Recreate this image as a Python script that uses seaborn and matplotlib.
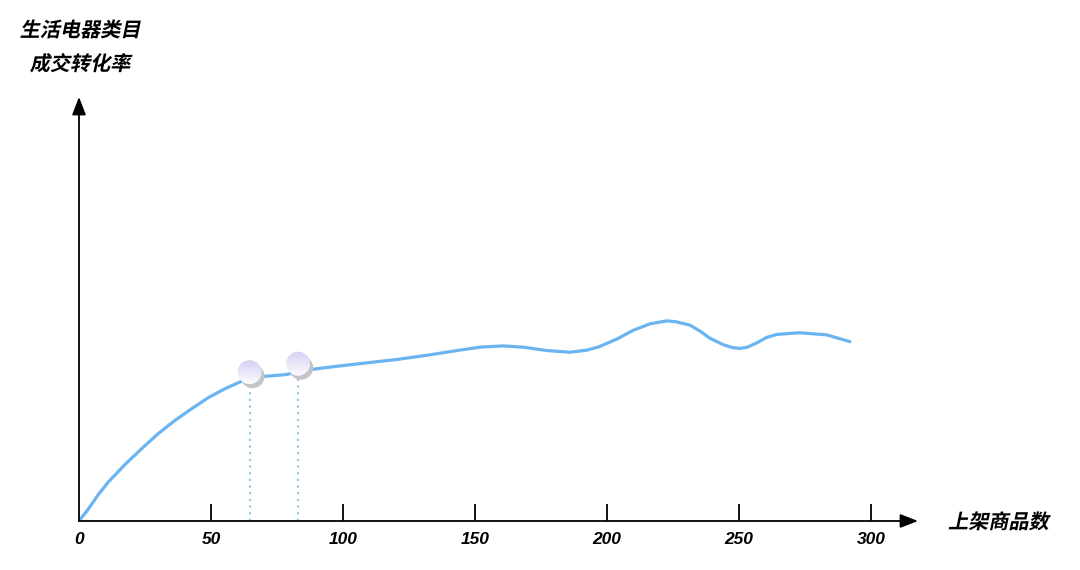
import matplotlib
matplotlib.use("Agg")
import matplotlib.pyplot as plt
import matplotlib.patheffects as pe
from matplotlib.patches import Ellipse
from matplotlib.transforms import Affine2D
import numpy as np
import seaborn as sns

# curve (x = listed goods, y = conversion rate, arbitrary units)
x_vals = [0, 3.5, 7.3, 11.1, 17.4, 23.8, 30.0, 36.3, 42.7, 49.0, 55.3, 61.0, 64.8,
          69.7, 78.0, 83.0, 87.5, 91.3, 95.1, 107.6, 120.5, 133.0, 143.2, 151.9,
          160.6, 168.2, 177.3, 186.0, 192.4, 197.0, 203.7, 210.0, 216.3, 222.6,
          226.1, 231.4, 235.2, 239.0, 244.0, 247.5, 250.4, 253.2, 256.7, 260.5,
          264.3, 273.1, 283.2, 292.0]
y_vals = [0, 0.28, 0.62, 0.92, 1.33, 1.71, 2.06, 2.37, 2.65, 2.91, 3.12, 3.28, 3.37,
          3.41, 3.45, 3.51, 3.57, 3.60, 3.63, 3.72, 3.81, 3.92, 4.02, 4.10,
          4.13, 4.10, 4.02, 3.98, 4.03, 4.11, 4.29, 4.50, 4.65, 4.72,
          4.70, 4.62, 4.48, 4.31, 4.16, 4.09, 4.07, 4.10, 4.20, 4.33,
          4.40, 4.44, 4.39, 4.23]
mark_x = [64.6, 83.0]
mark_y = [3.51, 3.71]
x_ticks = [0, 50, 100, 150, 200, 250, 300]
x_title = "上架商品数"
y_title = "生活电器类目\n成交转化率"

sns.set_theme(style="white")
plt.rcParams["font.family"] = ["Noto Sans CJK SC", "DejaVu Sans"]


class Slant(pe.AbstractPathEffect):
    def draw_path(self, renderer, gc, tpath, affine, rgbFace=None):
        renderer.draw_path(gc, tpath, Affine2D().skew_deg(12, 0) + affine, rgbFace)


fig = plt.figure(figsize=(10.8, 5.7), dpi=100)
ax = fig.add_axes([79 / 1080, 49 / 570, 839 / 1080, 424 / 570])

sns.lineplot(x=x_vals, y=y_vals, ax=ax, color="#6ab4f2", lw=2.3,
             estimator=None, sort=False)

ax.vlines(mark_x, 0, mark_y, colors="#92caf3", lw=1.6, linestyles=(0, (1, 2)))

# bubble markers: grey shadow + lavender-to-white gradient disc
rw, rh = 24 / 2.64, 24 / 42.4
grad = np.linspace(0, 1, 64)[:, None]
cmap = matplotlib.colors.LinearSegmentedColormap.from_list("bub", ["#fcfcff", "#d4d2f2"])
for mx, my in zip(mark_x, mark_y):
    sh = Ellipse((mx + 3 / 2.64, my - 4 / 42.4), rw, rh, color="#c4c4c8", lw=0, zorder=4)
    ax.add_patch(sh)
    disc = Ellipse((mx, my), rw, rh, color="none", lw=0, zorder=5)
    ax.add_patch(disc)
    im = ax.imshow(grad, cmap=cmap, aspect="auto", origin="lower", zorder=5,
                   extent=(mx - rw / 2, mx + rw / 2, my - rh / 2, my + rh / 2))
    im.set_clip_path(disc)
ax.set_xlim(0, 839 / 2.64)
ax.set_ylim(0, 10)

for s in ax.spines.values():
    s.set_visible(False)
ax.annotate("", xy=(1.0, 0), xytext=(0, 0), xycoords="axes fraction",
            arrowprops=dict(arrowstyle="-|>,head_length=0.9,head_width=0.35",
                            color="black", lw=1.3, shrinkA=0, shrinkB=0))
ax.annotate("", xy=(0, 1.0), xytext=(0, 0), xycoords="axes fraction",
            arrowprops=dict(arrowstyle="-|>,head_length=0.9,head_width=0.35",
                            color="black", lw=1.3, shrinkA=0, shrinkB=0))

ax.set_xticks(x_ticks)
ax.set_xticklabels([str(t) for t in x_ticks], fontfamily="Liberation Sans",
                   fontweight="bold", fontstyle="italic", fontsize=12.5,
                   color="black")
ax.tick_params(axis="x", direction="in", length=12, width=1.3, color="black",
               pad=8, bottom=True)
ax.xaxis.get_major_ticks()[0].tick1line.set_visible(False)
ax.set_yticks([])

slant = [Slant()]
fig.text(948 / 1080, (570 - 522) / 570, x_title, fontsize=14.5, fontweight="bold",
         color="black", va="center", ha="left", path_effects=slant)
fig.text(80 / 1080, (570 - 47) / 570, y_title, fontsize=14.5, fontweight="bold",
         color="black", va="center", ha="center", linespacing=1.75, path_effects=slant)

fig.savefig("out.png", dpi=100)
